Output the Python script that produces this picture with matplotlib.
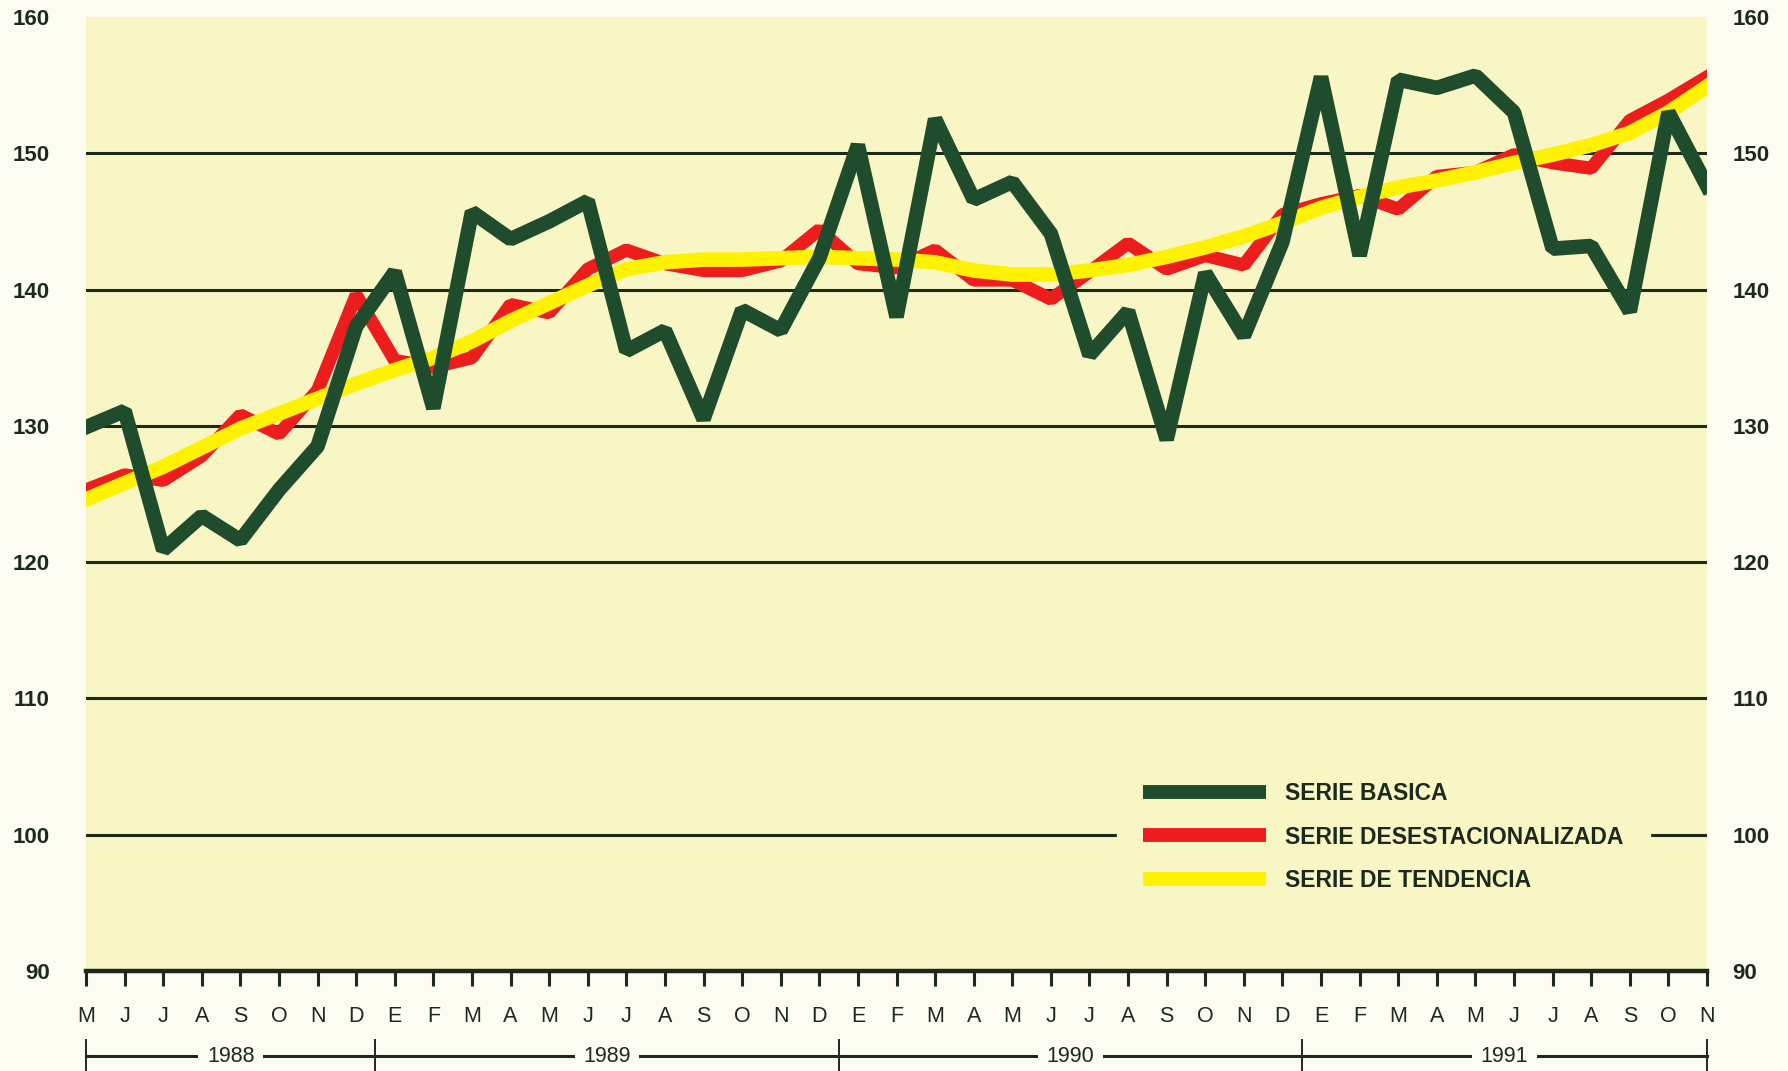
import matplotlib.pyplot as plt
import matplotlib.transforms as mtransforms
from matplotlib.lines import Line2D

W, H = 1788, 1071
PAPER = "#fcfcf2"
PLOT_BG = "#f8f6c4"
INK = "#1c2a1e"
GREEN = "#1f4c2c"
RED = "#ee1d1d"
YELLOW = "#fff200"

# months May 1988 .. Nov 1991
month_labels = (
    ["M", "J", "J", "A", "S", "O", "N", "D"]
    + ["E", "F", "M", "A", "M", "J", "J", "A", "S", "O", "N", "D"] * 2
    + ["E", "F", "M", "A", "M", "J", "J", "A", "S", "O", "N"]
)
years = ["1988", "1989", "1990", "1991"]
year_bounds = [0, 7.5, 19.5, 31.5, 42]

serie_basica = [
    129.9, 131.1, 120.9, 123.4, 121.6, 125.3, 128.5, 137.3,
    141.3, 131.3, 145.7, 143.7, 145.0, 146.5, 135.5, 137.0, 130.5, 138.5, 137.0, 142.3,
    150.6, 138.0, 152.5, 146.6, 147.9, 144.1, 135.2, 138.4, 129.0, 141.2, 136.6, 143.5,
    155.6, 142.5, 155.4, 154.8, 155.7, 153.0, 143.0, 143.2, 138.4, 153.0, 147.6,
]
serie_desest = [
    125.3, 126.4, 126.0, 127.8, 130.8, 129.4, 132.6, 139.6,
    134.8, 134.3, 135.0, 138.9, 138.3, 141.5, 142.9, 141.9, 141.4, 141.4, 142.1, 144.4,
    141.9, 141.6, 142.9, 140.7, 140.7, 139.3, 141.3, 143.4, 141.5, 142.5, 141.8, 145.5,
    146.3, 146.9, 145.9, 148.3, 148.6, 149.9, 149.3, 148.9, 152.4, 153.9, 155.6,
]
serie_tend = [
    124.6, 125.8, 127.0, 128.4, 129.8, 130.9, 132.0, 133.1,
    134.1, 135.0, 136.2, 137.7, 139.0, 140.3, 141.5, 142.0, 142.2, 142.2, 142.3, 142.4,
    142.3, 142.2, 142.0, 141.4, 141.1, 141.1, 141.4, 141.8, 142.4, 143.1, 143.9, 144.9,
    146.0, 146.8, 147.5, 148.0, 148.6, 149.3, 149.9, 150.6, 151.5, 153.0, 154.9,
]
y_ticks = [90, 100, 110, 120, 130, 140, 150, 160]
grid_levels = [100, 110, 120, 130, 140, 150]

plt.rcParams["font.family"] = ["Liberation Sans", "DejaVu Sans"]
NARROW = ["Liberation Sans Narrow", "Liberation Sans", "DejaVu Sans"]

fig = plt.figure(figsize=(W / 100, H / 100), dpi=100)
fig.patch.set_facecolor(PAPER)
ax = fig.add_axes([86 / W, 1 - 971 / H, (1707 - 86) / W, (971 - 17) / H])
ax.set_facecolor(PLOT_BG)

x = list(range(len(month_labels)))

for lev in grid_levels:
    ax.axhline(lev, color=INK, lw=2.2, zorder=1)

l_red, = ax.plot(x, serie_desest, color=RED, lw=9.5, solid_joinstyle="bevel", zorder=2)
l_yel, = ax.plot(x, serie_tend, color=YELLOW, lw=10.5, solid_joinstyle="round", zorder=3)
l_grn, = ax.plot(x, serie_basica, color=GREEN, lw=10.5, solid_joinstyle="bevel", zorder=4)

ax.set_xlim(0, 42)
ax.set_ylim(90, 160)

for side in ["left", "right", "top"]:
    ax.spines[side].set_visible(False)
ax.spines["bottom"].set_linewidth(3.2)
ax.spines["bottom"].set_color(INK)
ax.spines["bottom"].set_zorder(5)

ax.set_xticks(x)
ax.set_xticklabels(month_labels, fontfamily=NARROW, fontsize=15.5, color=INK)
ax.tick_params(axis="x", direction="out", length=11, width=2.2, color=INK, pad=14)

ax.set_yticks(y_ticks)
ax.set_yticklabels([str(v) for v in y_ticks], fontsize=16, fontweight="bold", color=INK)
ax.tick_params(axis="y", length=0, left=False, right=False,
               labelleft=True, labelright=True, pad=26)
for t in ax.yaxis.get_major_ticks():
    t.label1.set_horizontalalignment("right")
    t.label2.set_horizontalalignment("left")
# right labels sit closer to the frame than left ones
offset = mtransforms.ScaledTranslation(-7.5 / 72, 0, fig.dpi_scale_trans)
for t in ax.yaxis.get_major_ticks():
    t.label2.set_transform(t.label2.get_transform() + offset)

# year band below the month letters
trans = mtransforms.blended_transform_factory(ax.transData, ax.transAxes)
band_y = -0.0891
ax.plot([year_bounds[0], year_bounds[-1]], [band_y, band_y], color=INK, lw=2.2,
        transform=trans, clip_on=False)
for b in year_bounds:
    ax.plot([b, b], [-0.072, -0.106], color=INK, lw=1.4, transform=trans, clip_on=False)
for i, yr in enumerate(years):
    cx = (year_bounds[i] + year_bounds[i + 1]) / 2
    ax.text(cx, band_y, yr, transform=trans, ha="center", va="center",
            fontsize=15.5, fontfamily=NARROW, color=INK,
            bbox=dict(boxstyle="square,pad=0.4", fc=PAPER, ec="none"))

handles = [
    Line2D([0], [0], color=GREEN, lw=10, solid_capstyle="butt"),
    Line2D([0], [0], color=RED, lw=10, solid_capstyle="butt"),
    Line2D([0], [0], color=YELLOW, lw=10, solid_capstyle="butt"),
]
leg = ax.legend(handles, ["SERIE BASICA", "SERIE DESESTACIONALIZADA", "SERIE DE TENDENCIA"],
                loc="center left", bbox_to_anchor=(1117 / W, 1 - 837 / H),
                bbox_transform=fig.transFigure, borderaxespad=0,
                prop=dict(weight="bold", size=16.5), labelcolor=INK,
                handlelength=5.33, handletextpad=0.85, labelspacing=0.88,
                borderpad=1.15, frameon=True, fancybox=False,
                facecolor=PLOT_BG, edgecolor=PLOT_BG, framealpha=1)
leg.set_zorder(6)

fig.savefig("out.png", dpi=100, facecolor=PAPER)
